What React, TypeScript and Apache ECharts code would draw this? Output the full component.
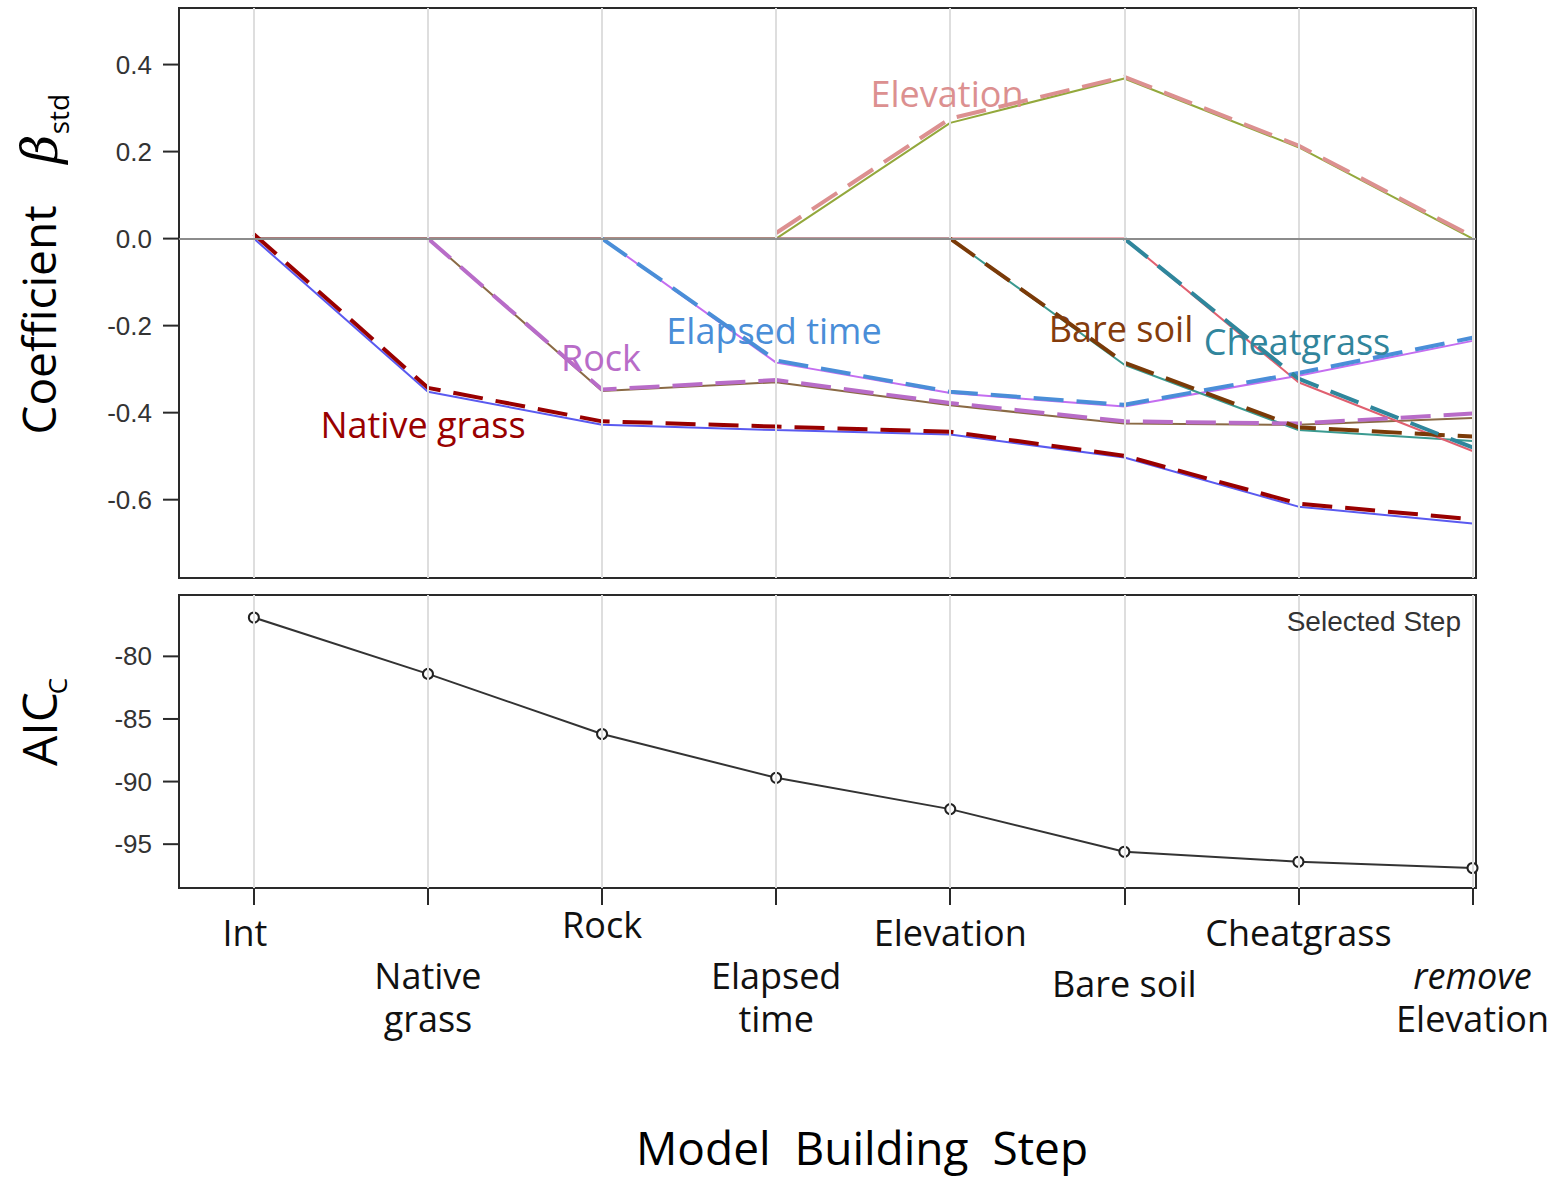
import React, { useEffect, useRef } from "react";
import * as echarts from "echarts";

// ---- data ----
const steps = ["Int", "Native grass", "Rock", "Elapsed time", "Elevation", "Bare soil", "Cheatgrass", "remove Elevation"];
const stepIdx = [0, 1, 2, 3, 4, 5, 6, 7];

// highlighted (dashed) coefficient paths
const nativeGrass = [0.01, -0.343, -0.42, -0.432, -0.444, -0.499, -0.609, -0.645];
const rock = [null, 0, -0.347, -0.325, -0.378, -0.42, -0.425, -0.402];
const elapsedTime = [null, null, 0, -0.28, -0.352, -0.382, -0.309, -0.228];
const elevation = [null, null, null, 0.013, 0.276, 0.372, 0.214, 0.005];
const bareSoil = [null, null, null, null, 0, -0.285, -0.434, -0.455];
const cheatgrass = [null, null, null, null, null, 0, -0.322, -0.48];

// underlying (original) coefficient paths
const nativeGrassBase = [0, -0.352, -0.428, -0.44, -0.45, -0.503, -0.616, -0.655];
const rockBase = [0, 0, -0.35, -0.33, -0.383, -0.425, -0.428, -0.412];
const elapsedTimeBase = [0, 0, 0, -0.285, -0.355, -0.386, -0.315, -0.235];
const elevationBase = [0, 0, 0, 0, 0.266, 0.368, 0.21, 0];
const bareSoilBase = [0, 0, 0, 0, 0, -0.29, -0.44, -0.465];
const cheatgrassBase = [0, 0, 0, 0, 0, 0, -0.33, -0.488];

const aicc = [-76.9, -81.4, -86.2, -89.7, -92.2, -95.6, -96.4, -96.9];

const coefTicks = [-0.6, -0.4, -0.2, 0, 0.2, 0.4];
const aicTicks = [-95, -90, -85, -80];

// ---- helpers ----
const X_MIN = -0.43;
const X_MAX = 7.02;
const toPairs = (vals: (number | null)[]) => vals.map((v, i) => [i, v === null ? "-" : v]);

const labelFor = (i: number) => {
  const s = steps[i];
  switch (i) {
    case 0: return `{ti|${s}}`;
    case 1: return `{g|\u00a0}\n{n|Native}\n{n|grass}`;
    case 2: return `{r|${s}}`;
    case 3: return `{g|\u00a0}\n{n|Elapsed}\n{n|time}`;
    case 4: return `{t|${s}}`;
    case 5: return `{g2|\u00a0}\n{n|${s}}`;
    case 6: return `{t|${s}}`;
    case 7: return `{g|\u00a0}\n{it|remove}\n{n|Elevation}`;
  }
  return "";
};

const DASH = [30, 13];

function dashed(name: string, vals: (number | null)[], color: string) {
  return {
    name, type: "line", xAxisIndex: 0, yAxisIndex: 0, z: 4,
    data: toPairs(vals), symbol: "none", connectNulls: false,
    lineStyle: { color, width: 4, type: DASH, cap: "butt" },
  };
}
function base(name: string, vals: (number | null)[], color: string) {
  return {
    name: name + " base", type: "line", xAxisIndex: 0, yAxisIndex: 0, z: 3,
    data: toPairs(vals), symbol: "none",
    lineStyle: { color, width: 2 },
  };
}
function yTicks(axisIdx: number, ticks: number[]) {
  return {
    type: "custom", xAxisIndex: axisIdx, yAxisIndex: axisIdx, z: 6, clip: false, silent: true,
    data: ticks.map((v) => [X_MIN, v]),
    renderItem: (params: any, api: any) => {
      const p = api.coord([api.value(0), api.value(1)]);
      return {
        type: "line",
        shape: { x1: p[0] - 16, y1: p[1], x2: p[0], y2: p[1] },
        style: { stroke: "#2a2a2a", lineWidth: 2 },
      };
    },
  };
}

const FONT = "Open Sans";

export default function App() {
  const ref = useRef<HTMLDivElement>(null);
  useEffect(() => {
    if (!ref.current) return;
    const chart = echarts.init(ref.current, undefined, { renderer: "svg" });
    const gridLines = {
      silent: true, symbol: ["none", "none"], label: { show: false },
      lineStyle: { color: "#dedede", width: 2, type: "solid" },
      data: stepIdx.map((i) => ({ xAxis: i })),
    };
    const xr = { fontFamily: FONT, fontSize: 36, color: "#111" };
    const option: any = {
      animation: false,
      backgroundColor: "#ffffff",
      grid: [
        { left: 179, top: 8, width: 1297, height: 570, show: true, borderColor: "#2a2a2a", borderWidth: 2 },
        { left: 179, top: 595, width: 1297, height: 293, show: true, borderColor: "#2a2a2a", borderWidth: 2 },
      ],
      xAxis: [
        {
          gridIndex: 0, type: "value", min: X_MIN, max: X_MAX,
          axisLine: { show: false, onZero: false }, axisTick: { show: false }, axisLabel: { show: false }, splitLine: { show: false },
        },
        {
          gridIndex: 1, type: "value", min: X_MIN, max: X_MAX,
          axisLine: { show: true, onZero: false, lineStyle: { color: "#2a2a2a", width: 2 } },
          axisTick: { show: true, customValues: stepIdx, length: 17, lineStyle: { color: "#2a2a2a", width: 2 } },
          axisLabel: {
            customValues: stepIdx, margin: 20, formatter: (v: number) => labelFor(Math.round(v)),
            fontFamily: FONT, fontSize: 36, color: "#111",
            rich: {
              t: { ...xr, lineHeight: 48 },
              ti: { ...xr, lineHeight: 48, padding: [0, 18, 0, 0] },
              r: { ...xr, lineHeight: 32 },
              n: { ...xr, lineHeight: 43 },
              it: { ...xr, lineHeight: 43, fontStyle: "italic" },
              g: { fontSize: 10, lineHeight: 45.5 },
              g2: { fontSize: 10, lineHeight: 53.5 },
            },
          },
          splitLine: { show: false },
        },
      ],
      yAxis: [
        {
          gridIndex: 0, type: "value", min: -0.78, max: 0.53,
          axisLine: { show: true, onZero: false, lineStyle: { color: "#2a2a2a", width: 2 } },
          axisTick: { show: false },
          axisLabel: {
            customValues: coefTicks, margin: 27, formatter: (v: number) => v.toFixed(1),
            fontFamily: "Liberation Sans", fontSize: 26, color: "#333",
          },
          splitLine: { show: false },
        },
        {
          gridIndex: 1, type: "value", min: -98.5, max: -75.1,
          axisLine: { show: true, onZero: false, lineStyle: { color: "#2a2a2a", width: 2 } },
          axisTick: { show: false },
          axisLabel: {
            customValues: aicTicks, margin: 27, formatter: (v: number) => String(v),
            fontFamily: "Liberation Sans", fontSize: 26, color: "#333",
          },
          splitLine: { show: false },
        },
      ],
      series: [
        {
          name: "grid-top", type: "line", xAxisIndex: 0, yAxisIndex: 0, z: 1,
          data: stepIdx.map((i) => [i, 0]), symbol: "none", lineStyle: { opacity: 0 },
          markLine: {
            ...gridLines,
            data: [
              ...gridLines.data,
              { yAxis: 0, lineStyle: { color: "#8c8c8c", width: 2, type: "solid" } },
            ],
          },
        },
        yTicks(0, coefTicks),
        yTicks(1, aicTicks),
        base("Native grass", nativeGrassBase, "#5a5af0"),
        base("Rock", rockBase, "#8a6a45"),
        base("Elapsed time", elapsedTimeBase, "#c46ef0"),
        base("Elevation", elevationBase, "#93a83c"),
        base("Bare soil", bareSoilBase, "#3a9a90"),
        base("Cheatgrass", cheatgrassBase, "#e06070"),
        dashed("Native grass", nativeGrass, "#990000"),
        dashed("Rock", rock, "#b86cc8"),
        dashed("Elapsed time", elapsedTime, "#4a8ed8"),
        dashed("Elevation", elevation, "#dc9090"),
        dashed("Bare soil", bareSoil, "#7a3a08"),
        dashed("Cheatgrass", cheatgrass, "#2f869c"),
        {
          name: "AICc", type: "line", xAxisIndex: 1, yAxisIndex: 1, z: 4,
          data: aicc.map((v, i) => [i, v]),
          symbol: "circle", symbolSize: 10,
          itemStyle: { color: "#ffffff", borderColor: "#222", borderWidth: 2 },
          lineStyle: { color: "#333", width: 2 },
          markLine: gridLines,
        },
      ],
      graphic: [
        { type: "text", x: 947, y: 93, z: 10, style: { text: "Elevation", fill: "#dc9090", fontSize: 36, fontFamily: FONT, align: "center", verticalAlign: "middle" } },
        { type: "text", x: 601, y: 357, z: 10, style: { text: "Rock", fill: "#b86cc8", fontSize: 36, fontFamily: FONT, align: "center", verticalAlign: "middle" } },
        { type: "text", x: 774, y: 330, z: 10, style: { text: "Elapsed time", fill: "#4a8ed8", fontSize: 36, fontFamily: FONT, align: "center", verticalAlign: "middle" } },
        { type: "text", x: 423, y: 424, z: 10, style: { text: "Native grass", fill: "#990000", fontSize: 36, fontFamily: FONT, align: "center", verticalAlign: "middle" } },
        { type: "text", x: 1121, y: 328, z: 10, style: { text: "Bare soil", fill: "#843c0c", fontSize: 36, fontFamily: FONT, align: "center", verticalAlign: "middle" } },
        { type: "text", x: 1297, y: 341, z: 10, style: { text: "Cheatgrass", fill: "#31859c", fontSize: 36, fontFamily: FONT, align: "center", verticalAlign: "middle" } },
        { type: "text", x: 1461, y: 621, z: 10, style: { text: "Selected Step", fill: "#333", fontSize: 28, fontFamily: "Liberation Sans", align: "right", verticalAlign: "middle" } },
        { type: "text", x: 38, y: 320, rotation: Math.PI / 2, style: { text: "Coefficient", fill: "#000", fontSize: 46, fontFamily: FONT, align: "center", verticalAlign: "middle" } },
        { type: "text", x: 40, y: 149, rotation: Math.PI / 2, style: { text: "β", fill: "#000", fontSize: 50, fontFamily: "DejaVu Serif", fontStyle: "italic", align: "center", verticalAlign: "middle" } },
        { type: "text", x: 58, y: 114, rotation: Math.PI / 2, style: { text: "std", fill: "#000", fontSize: 28, fontFamily: FONT, align: "center", verticalAlign: "middle" } },
        { type: "text", x: 38, y: 729, rotation: Math.PI / 2, style: { text: "AIC", fill: "#000", fontSize: 48, fontFamily: FONT, align: "center", verticalAlign: "middle" } },
        { type: "text", x: 57, y: 686, rotation: Math.PI / 2, style: { text: "C", fill: "#000", fontSize: 26, fontFamily: FONT, align: "center", verticalAlign: "middle" } },
        { type: "text", x: 862, y: 1147, style: { text: "Model \u00a0Building \u00a0Step", fill: "#000", fontSize: 46, fontFamily: FONT, align: "center", verticalAlign: "middle" } },
      ],
    };
    chart.setOption(option);
    return () => chart.dispose();
  }, []);
  return <div ref={ref} style={{ position: "fixed", left: 0, top: 0, width: 1563, height: 1179, background: "#fff" }} />;
}
